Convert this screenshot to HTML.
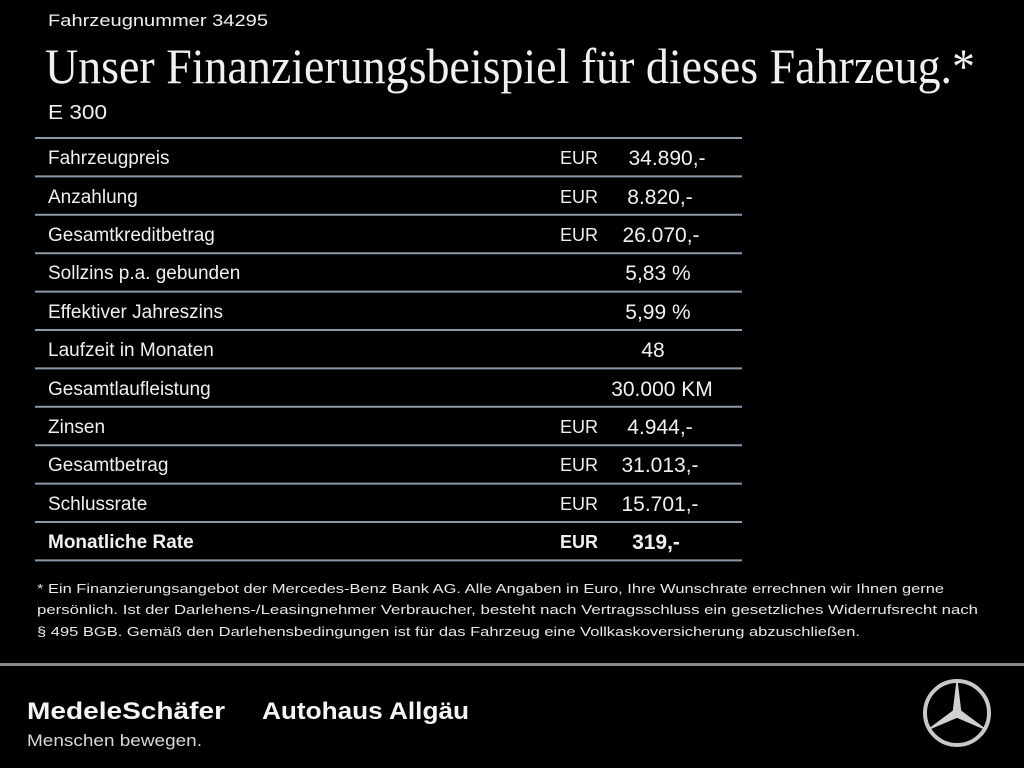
<!DOCTYPE html>
<html><head><meta charset="utf-8"><style>
html,body{margin:0;padding:0;background:#000;}
svg{display:block}
</style></head><body>
<svg width="1024" height="768" viewBox="0 0 1024 768" xmlns="http://www.w3.org/2000/svg">
<rect width="1024" height="768" fill="#000"/>
<g font-family="Liberation Sans, sans-serif" fill="#f0f0f0">
<text x="48" y="26" font-size="17" textLength="220" lengthAdjust="spacingAndGlyphs">Fahrzeugnummer 34295</text>
<text x="45" y="83" font-size="50" font-family="Liberation Serif, serif" textLength="930" lengthAdjust="spacingAndGlyphs">Unser Finanzierungsbeispiel für dieses Fahrzeug.*</text>
<text x="48" y="119" font-size="20" textLength="59" lengthAdjust="spacingAndGlyphs">E 300</text>
</g>
<g stroke="#8a99a8" stroke-width="2">
<line x1="35" x2="742" y1="138" y2="138"/><line x1="35" x2="742" y1="176.4" y2="176.4"/>
<line x1="35" x2="742" y1="214.8" y2="214.8"/><line x1="35" x2="742" y1="253.2" y2="253.2"/>
<line x1="35" x2="742" y1="291.6" y2="291.6"/><line x1="35" x2="742" y1="330" y2="330"/>
<line x1="35" x2="742" y1="368.4" y2="368.4"/><line x1="35" x2="742" y1="406.8" y2="406.8"/>
<line x1="35" x2="742" y1="445.2" y2="445.2"/><line x1="35" x2="742" y1="483.6" y2="483.6"/>
<line x1="35" x2="742" y1="522" y2="522"/><line x1="35" x2="742" y1="560.4" y2="560.4"/>
</g>
<g font-family="Liberation Sans, sans-serif" font-size="19" fill="#f0f0f0">
<text x="48" y="164">Fahrzeugpreis</text>
<text x="48" y="203">Anzahlung</text>
<text x="48" y="241">Gesamtkreditbetrag</text>
<text x="48" y="279">Sollzins p.a. gebunden</text>
<text x="48" y="318">Effektiver Jahreszins</text>
<text x="48" y="356">Laufzeit in Monaten</text>
<text x="48" y="395">Gesamtlaufleistung</text>
<text x="48" y="433">Zinsen</text>
<text x="48" y="471">Gesamtbetrag</text>
<text x="48" y="510">Schlussrate</text>
<text x="48" y="548" font-weight="bold">Monatliche Rate</text>
<g font-size="18">
<text x="560" y="164">EUR</text><text x="560" y="203">EUR</text><text x="560" y="241">EUR</text>
<text x="560" y="433">EUR</text><text x="560" y="471">EUR</text><text x="560" y="510">EUR</text>
<text x="560" y="548" font-weight="bold">EUR</text>
</g>
<g font-size="21" text-anchor="middle">
<text x="667" y="165">34.890,-</text>
<text x="660" y="204">8.820,-</text>
<text x="661" y="242">26.070,-</text>
<text x="658" y="280">5,83 %</text>
<text x="658" y="319">5,99 %</text>
<text x="653" y="357">48</text>
<text x="662" y="396">30.000 KM</text>
<text x="660" y="434">4.944,-</text>
<text x="660" y="472">31.013,-</text>
<text x="660" y="511">15.701,-</text>
<text x="656" y="549" font-weight="bold">319,-</text>
</g>
</g>
<g font-family="Liberation Sans, sans-serif" font-size="13" fill="#e8e8e8">
<text x="37" y="593" textLength="907" lengthAdjust="spacingAndGlyphs">* Ein Finanzierungsangebot der Mercedes-Benz Bank AG. Alle Angaben in Euro, Ihre Wunschrate errechnen wir Ihnen gerne</text>
<text x="37" y="614" textLength="941" lengthAdjust="spacingAndGlyphs">persönlich. Ist der Darlehens-/Leasingnehmer Verbraucher, besteht nach Vertragsschluss ein gesetzliches Widerrufsrecht nach</text>
<text x="37" y="636" textLength="823" lengthAdjust="spacingAndGlyphs">§ 495 BGB. Gemäß den Darlehensbedingungen ist für das Fahrzeug eine Vollkaskoversicherung abzuschließen.</text>
</g>
<rect x="0" y="663" width="1024" height="3" fill="#8a8a8a"/>
<g font-family="Liberation Sans, sans-serif" fill="#f5f5f5">
<text x="27" y="719" font-size="24" font-weight="bold" textLength="198" lengthAdjust="spacingAndGlyphs">MedeleSchäfer</text>
<text x="262" y="719" font-size="24" font-weight="bold" textLength="207" lengthAdjust="spacingAndGlyphs">Autohaus Allgäu</text>
<text x="27" y="746" font-size="17" fill="#d8d8d8" textLength="175" lengthAdjust="spacingAndGlyphs">Menschen bewegen.</text>
</g>
<g transform="translate(957,713)" fill="none" stroke="#c8c8c8">
<circle r="32" stroke-width="4"/>
<path d="M0,-31 L3.5,-2 L27,15.5 L0,4 L-27,15.5 L-3.5,-2 Z" fill="#d0d0d0" stroke="#d0d0d0" stroke-width="1.5" stroke-linejoin="round"/>
</g>
</svg>
</body></html>
